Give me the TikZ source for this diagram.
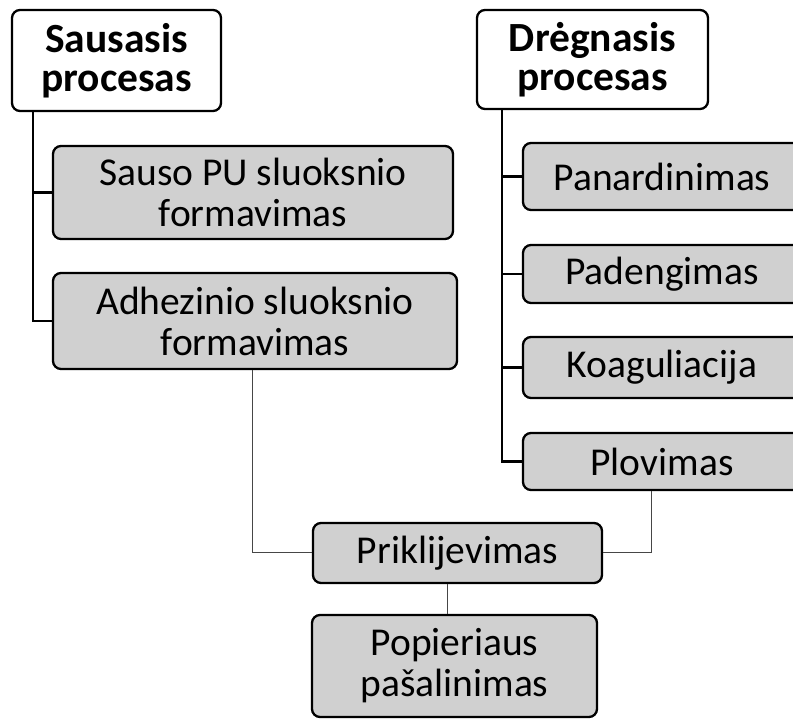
\documentclass[tikz,border=0pt]{standalone}
\usepackage{fontspec}
\setmainfont{Carlito}
\definecolor{boxfill}{RGB}{208,208,208}
\definecolor{thinline}{RGB}{70,70,70}
\begin{document}
\begin{tikzpicture}[x=1pt,y=1pt,
  base/.style={draw=black, line width=2.3pt, rounded corners=8pt, inner sep=0pt, align=center,
    font=\fontsize{39.5}{41}\selectfont},
  headbox/.style={base, fill=white, font=\fontsize{41.5}{39}\selectfont\bfseries},
  procbox/.style={base, fill=boxfill},
  trunk/.style={draw=black, line width=2.6pt},
  thin/.style={draw=thinline, line width=1pt}]
\useasboundingbox (0,0) rectangle (793,719);
\clip (0,0) rectangle (793,719);
% headers
\node[headbox, minimum width=209, minimum height=101] (saus) at (116.5,658.5) {Sausasis\\procesas};
\node[headbox, minimum width=231, minimum height=99] (dreg) at (592.5,659.5) {Drėgnasis\\procesas};
% left branch
\node[procbox, minimum width=400, minimum height=93] (sauso) at (253,526.5) {Sauso PU sluoksnio\\formavimas};
\node[procbox, minimum width=404, minimum height=96] (adhez) at (255,398) {Adhezinio sluoksnio\\formavimas};
% right branch
\node[procbox, minimum width=278, minimum height=67] (panard) at (662,542.5) {Panardinimas};
\node[procbox, minimum width=278, minimum height=58] (padeng) at (662,445) {Padengimas};
\node[procbox, minimum width=278, minimum height=61] (koag) at (662,351.5) {Koaguliacija};
\node[procbox, minimum width=278, minimum height=57] (plov) at (662,257.5) {Plovimas};
% bottom
\node[procbox, minimum width=289, minimum height=60] (prikl) at (457.5,166) {Priklijevimas};
\node[procbox, minimum width=285, minimum height=102] (popier) at (454.5,53) {Popieriaus\\pašalinimas};
% trunk x positions
\coordinate (tl) at (33,0);
\coordinate (tr) at (502,0);
\coordinate (cl) at (252,0);
\coordinate (cr) at (651,0);
\coordinate (cm) at (447,0);
% trunk lines
\draw[trunk] (saus.south -| tl) |- (sauso.west);
\draw[trunk] (saus.south -| tl) |- (adhez.west);
\draw[trunk] (dreg.south -| tr) |- (panard.west);
\draw[trunk] (dreg.south -| tr) |- (padeng.west);
\draw[trunk] (dreg.south -| tr) |- (koag.west);
\draw[trunk] (dreg.south -| tr) |- (plov.west);
% thin connectors
\draw[thin] (adhez.south -| cl) |- (prikl.west);
\draw[thin] (plov.south -| cr) |- (prikl.east);
\draw[thin] (prikl.south -| cm) -- (popier.north -| cm);
\end{tikzpicture}
\end{document}
